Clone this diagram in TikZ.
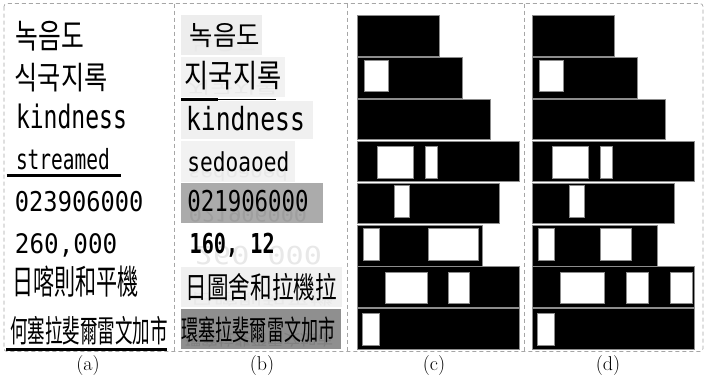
\documentclass[tikz,border=0pt]{standalone}
\usepackage{fontspec}
\usepackage{graphicx}
\newfontfamily\krfont{Noto Sans CJK KR}
\newfontfamily\tcfont{Noto Sans CJK TC}
\newfontfamily\monofont{DejaVu Sans Mono}
\newcommand\inktext[6]{\node[inner sep=0pt,anchor=center] at ({(#1+#3)/2},{(#2+#4)/2}) {\resizebox*{\dimexpr#3pt-#1pt\relax}{\dimexpr#4pt-#2pt\relax}{#5#6}};}
\newcommand\cjktext[6]{\node[inner sep=0pt,anchor=center] at ({(#1+#3)/2},{(#2+#4)/2}) {\resizebox*{1.03\dimexpr#3pt-#1pt\relax}{1.15\dimexpr#4pt-#2pt\relax}{#5#6}};}
\newcommand\ghosttext[6]{\node[inner sep=0pt,anchor=center,text=black!9] at ({(#1+#3)/2},{(#2+#4)/2}) {\resizebox*{\dimexpr#3pt-#1pt\relax}{\dimexpr#4pt-#2pt\relax}{\scalebox{1}[-1]{#5#6}}};}
\tikzset{
  frame/.style={draw=black!35,dash pattern=on 4pt off 3pt,line width=0.7pt},
  bar/.style={fill=black,draw=black!45,line width=0.8pt},
  hole/.style={fill=white,draw=black!45,line width=0.8pt},
  caption/.style={inner sep=0pt,font=\fontsize{20}{20}\selectfont}
}
\begin{document}
\begin{tikzpicture}[x=1pt,y=-1pt]
\useasboundingbox (0,0) rectangle (706,380);
\fill[white] (0,0) rectangle (706,380);
% frames
\draw[frame,rounded corners=3pt] (4,3.5) rectangle (703,351.5);
\draw[frame] (174.5,3.5) -- (174.5,351.5);
\draw[frame] (347.5,3.5) -- (347.5,351.5);
\draw[frame] (524,3.5) -- (524,351.5);
% ---------- panel (a)
\cjktext{17}{23.3}{83.3}{49.3}{\krfont}{녹음도}
\cjktext{16}{65}{106}{90}{\krfont}{식국지록}
\inktext{16}{104.3}{127}{129.3}{\monofont}{kindness}
\inktext{16}{148.5}{110}{170}{\monofont}{streamed}
\draw[line width=3.5pt] (6.7,175.3) -- (121,175.3);
\inktext{15}{191.7}{143.3}{212.3}{\monofont}{023906000}
\inktext{15}{233.3}{117.3}{257}{\monofont}{260,000}
\cjktext{14}{267.7}{136.7}{295}{\tcfont}{日喀則和平機}
\cjktext{12.7}{318.3}{165.7}{343.3}{\tcfont}{何塞拉斐爾雷文加市}
\draw[line width=3pt] (6,349) -- (166.7,349);
% ---------- panel (b)
\fill[black!7] (181,15) rectangle (261.7,55);
\ghosttext{192}{33}{258}{52}{\krfont}{녹음도}
\cjktext{191}{25}{259}{46}{\krfont}{녹음도}
\fill[black!5] (181,57) rectangle (285,97);
\ghosttext{188}{80}{278}{95}{\krfont}{지국지록}
\cjktext{186}{63.3}{280}{88.3}{\krfont}{지국지록}
\draw[line width=0.9pt] (181,99.5) -- (276,99.5);
\draw[line width=2.6pt] (181,99.5) -- (218.3,99.5);
\fill[black!6] (181,100.5) rectangle (312.7,139.3);
\inktext{186}{106}{305}{130.7}{\monofont}{kindness}
\fill[black!5] (181,141) rectangle (295,181.7);
\ghosttext{188}{168}{288}{181}{\monofont}{sedoaoed}
\inktext{187.3}{151.5}{289.3}{171.7}{\monofont}{sedoaoed}
\fill[black!33] (181,183.3) rectangle (322.7,223.3);
\node[inner sep=0pt,text=black!38] at (248,215) {\resizebox*{118pt}{14pt}{\scalebox{1}[-1]{\monofont 021906000}}};
\inktext{187.3}{190}{308.7}{211.7}{\monofont}{021906000}
\ghosttext{195}{243}{322}{265}{\monofont}{260,000}
\inktext{189.7}{233.3}{274.7}{257.5}{\monofont\bfseries}{160, 12}
\fill[black!6] (181,267.3) rectangle (341.7,307.3);
\ghosttext{190}{292}{334}{306}{\tcfont}{日喀則和平機}
\cjktext{188}{275.3}{334.7}{299.3}{\tcfont}{日圖舍和拉機拉}
\fill[black!44] (181,309) rectangle (340.7,349.3);
\node[inner sep=0pt,text=black!50] at (259,340) {\resizebox*{148pt}{14pt}{\scalebox{1}[-1]{\tcfont 環塞拉斐爾雷文加市}}};
\cjktext{184}{318.7}{333}{341.3}{\tcfont}{環塞拉斐爾雷文加市}
% ---------- panels (c) and (d): common parts
\foreach \dx in {0,175}{
\begin{scope}[xshift=\dx pt]
\draw[bar] (357.7,15.3) rectangle (439.3,56);
\draw[bar] (357.7,57.3) rectangle (462.3,98.3);
\draw[hole] (364.7,60) rectangle (388.7,91.3);
\draw[bar] (357.7,99.3) rectangle (490.3,139.3);
\draw[bar] (357.7,141) rectangle (519.3,181.7);
\draw[hole] (377.3,146) rectangle (413.3,178.3);
\draw[hole] (425.3,146) rectangle (437.7,178.3);
\draw[bar] (357.7,183.3) rectangle (499.3,223.3);
\draw[hole] (394.3,185.3) rectangle (409.3,217.3);
\draw[bar] (357.7,225) rectangle (482.3,266);
\draw[hole] (363.5,228.7) rectangle (379.7,260.7);
\draw[bar] (357.7,266.7) rectangle (519.3,307.3);
\draw[bar] (357.7,308.7) rectangle (519.3,349.3);
\draw[hole] (362,313.7) rectangle (379.3,345.3);
\end{scope}
}
% panel (c) specific
\draw[hole] (428.3,228.7) rectangle (478,260.7);
\draw[hole] (385.3,272.3) rectangle (427.3,303.7);
\draw[hole] (448.3,272.3) rectangle (469.3,303.7);
% panel (d) specific
\draw[hole] (600.3,228.7) rectangle (631.3,260.7);
\draw[hole] (560.7,272.3) rectangle (604.3,303.7);
\draw[hole] (626.3,272.3) rectangle (648,303.7);
\draw[hole] (670,272.3) rectangle (692,303.7);
% captions
\node[caption] (capa) at (88,366) {(a)};
\node[caption] (capb) at (262,366) {(b)};
\node[caption] (capc) at (434,366) {(c)};
\node[caption] (capd) at (608,366) {(d)};
\end{tikzpicture}
\end{document}
